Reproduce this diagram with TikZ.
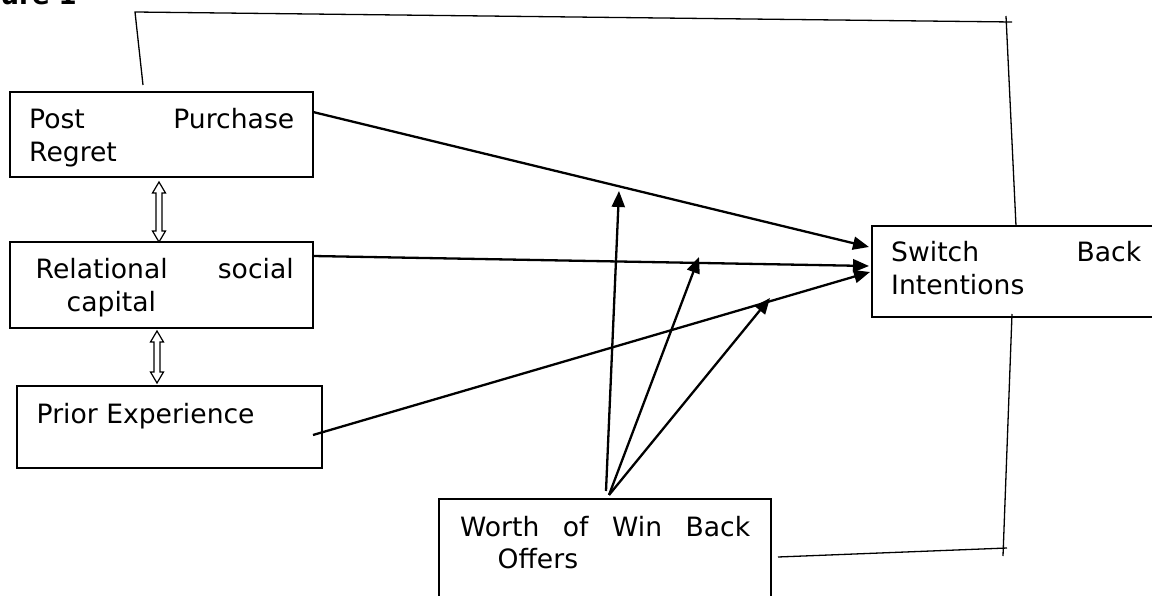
\documentclass[tikz,border=0pt]{standalone}
\usepackage{fontspec}
\setmainfont{DejaVu Sans}
\usetikzlibrary{arrows.meta,calc}
\begin{document}
\begin{tikzpicture}[x=1pt,y=-1pt,
  box/.style={draw, line width=1.4pt, rectangle, inner sep=0pt, outer sep=0pt, anchor=north west},
  txt/.style={inner sep=0pt, anchor=base west, font=\fontsize{26.6}{32.5}\selectfont},
  arr/.style={line width=2.3pt, -{Triangle[length=16pt,width=13pt]}},
  thinline/.style={line width=1.3pt},
  dblarr/.style={draw, line width=1.2pt, fill=white, to path={
    ($(\tikztostart)+(-3,11)$) -- ($(\tikztostart)+(-6.5,11)$) -- (\tikztostart)
    -- ($(\tikztostart)+(6.5,11)$) -- ($(\tikztostart)+(3,11)$)
    -- ($(\tikztotarget)+(3,-11)$) -- ($(\tikztotarget)+(6.5,-11)$) -- (\tikztotarget)
    -- ($(\tikztotarget)+(-6.5,-11)$) -- ($(\tikztotarget)+(-3,-11)$) -- cycle}}]
\clip (0,0) rectangle (1152,596);
\fill[white] (0,0) rectangle (1152,596);

% boxes
\node[box, minimum width=303pt, minimum height=85pt] (pp) at (10,92) {};
\node[box, minimum width=303pt, minimum height=86pt] (rs) at (10,242) {};
\node[box, minimum width=305pt, minimum height=82pt] (pe) at (17,386) {};
\node[box, minimum width=290pt, minimum height=91pt] (sb) at (872,226) {};
\node[box, minimum width=332pt, minimum height=130pt] (wb) at (439,499) {};

% texts
\node[txt, anchor=base east, font=\fontsize{26}{32}\selectfont\bfseries] (fig) at (77,5) {Figure 1};
\node[txt] (ppt) at (29,129) {\vtop{\hbox{\makebox[265pt][s]{Post Purchase}}\hbox{Regret}}};
\node[txt] (rst) at (35.5,279) {\vtop{\hbox{\makebox[258pt][s]{Relational social}}\hbox{\hspace*{31pt}capital}}};
\node[txt] (pet) at (36.5,423) {Prior Experience};
\node[txt] (sbt) at (891,262) {\vtop{\hbox{\makebox[250pt][s]{Switch Back}}\hbox{Intentions}}};
\node[txt] (wbt) at (460,536) {\vtop{\hbox{\makebox[290pt][s]{Worth of Win Back}}\hbox{\hspace*{37.5pt}Offers}}};

% free ends
\coordinate (t4) at (619,191);
\coordinate (t5) at (699,257);
\coordinate (t6) at (770,298);
\coordinate (c1) at (135,12);
\coordinate (c2) at (1012,22);
\coordinate (c3) at (1006,16);
\coordinate (c4) at (1003,556);
\coordinate (c5) at (1007,548);

% arrows to Switch Back Intentions
\draw[arr] ($(pp.north east)+(0,20)$) -- ($(sb.north west)+(-3,21)$);
\draw[arr] ($(rs.north east)+(0,14)$) -- ($(sb.north west)+(-3,40)$);
\draw[arr] ($(pe.north east)+(-9,49)$) -- ($(sb.north west)+(-2,46)$);
% moderating arrows
\draw[arr] ($(wb.north west)+(167,-8)$) -- (t4);
\draw[arr] ($(wb.north west)+(170,-4)$) -- (t5);
\draw[arr] ($(wb.north west)+(170,-4)$) -- (t6);

% double arrows
\path[dblarr] ($(pp.south west)+(149,5)$) to ($(rs.north west)+(149,0)$);
\path[dblarr] ($(rs.south west)+(147,3)$) to ($(pe.north west)+(140,-3)$);

% thin lines
\draw[thinline] ($(pp.north west)+(133,-7)$) -- (c1) -- (c2);
\draw[thinline] (c3) -- ($(sb.north west)+(144,0)$);
\draw[thinline] ($(sb.south west)+(140,-3)$) -- (c4);
\draw[thinline] ($(wb.north east)+(7,58)$) -- (c5);
\end{tikzpicture}
\end{document}
